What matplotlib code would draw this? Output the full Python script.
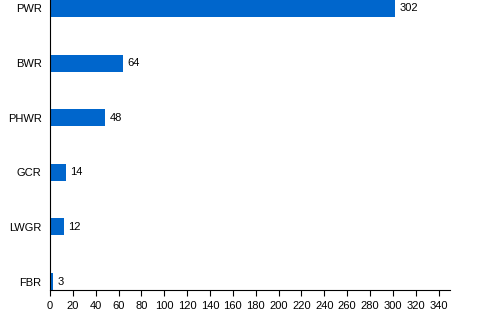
import matplotlib
matplotlib.use("Agg")
import matplotlib.pyplot as plt

types = ["PWR", "BWR", "PHWR", "GCR", "LWGR", "FBR"]
counts = [302, 64, 48, 14, 12, 3]

plt.rcParams["font.family"] = ["Liberation Sans", "DejaVu Sans"]

fig = plt.figure(figsize=(5, 3.1), dpi=100)
ax = fig.add_axes([0.1, 0.0645, 0.8, 0.9355])

pos = list(range(len(types)))[::-1]
bars = ax.barh(pos, counts, height=0.31, color="#0066cc")
for p, v in zip(pos, counts):
    ax.text(v + 4, p, str(v), va="center", ha="left", fontsize=8)

ax.set_yticks(pos)
ax.set_yticklabels(types, fontsize=8)
ax.set_xticks(range(0, 341, 20))
ax.tick_params(axis="x", labelsize=8, length=4, width=0.8, pad=4)
ax.tick_params(axis="y", length=0, pad=6)
ax.set_xlim(0, 350)
ax.set_ylim(-0.155, 5.155)
for s in ["top", "right"]:
    ax.spines[s].set_visible(False)

fig.savefig("out.png", dpi=100)
